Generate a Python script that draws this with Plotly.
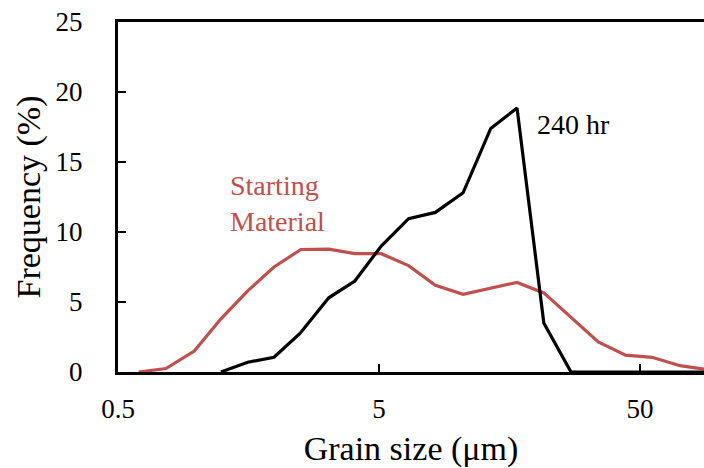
import plotly.graph_objects as go
import math

# Grain size (µm) bins and frequencies (%)
size_start = [0.60, 0.763, 0.980, 1.24, 1.57, 1.98, 2.51, 3.21, 4.04, 5.1, 6.49, 8.22,
              10.5, 13.4, 16.9, 21.4, 27.2, 34.6, 44.0, 55.6, 71.2, 89.0]
freq_start = [0.0, 0.25, 1.5, 3.8, 5.8, 7.5, 8.75, 8.77, 8.45, 8.45, 7.6, 6.2,
              5.55, 6.0, 6.4, 5.65, 3.9, 2.15, 1.2, 1.05, 0.45, 0.2]

size_240 = [1.24, 1.57, 1.98, 2.49, 3.21, 4.04, 5.1, 6.49, 8.22, 10.5, 13.4, 16.9,
            21.4, 27.2, 34.6, 44.0, 55.6, 71.2, 89.0]
freq_240 = [0.0, 0.7, 1.05, 2.75, 5.3, 6.5, 9.0, 10.95, 11.4, 12.8, 17.4, 18.85,
            3.5, 0.0, 0.0, 0.0, 0.0, 0.0, 0.0]

x_ticks = [0.5, 5, 50]
x_tick_text = ["0.5", "5", "50"]
y_ticks = [0, 5, 10, 15, 20, 25]

RED = "#C0504D"
FONT = "Liberation Serif"

fig = go.Figure()
fig.add_trace(go.Scatter(x=size_start, y=freq_start, mode="lines",
                         line=dict(color=RED, width=3.2), name="Starting Material"))
fig.add_trace(go.Scatter(x=size_240, y=freq_240, mode="lines",
                         line=dict(color="black", width=3.2), name="240 hr"))

fig.add_annotation(xref="paper", yref="paper", x=(535 - 118) / 586, y=(372 - 125) / 350,
                   text="240 hr", showarrow=False, xanchor="left", yanchor="middle",
                   font=dict(family=FONT, size=28, color="black"))
fig.add_annotation(xref="paper", yref="paper", x=(228 - 118) / 586, y=(372 - 203) / 350,
                   text="Starting<br>Material", showarrow=False, xanchor="left", yanchor="middle",
                   align="left", font=dict(family=FONT, size=28, color=RED))

fig.update_layout(
    width=704, height=468,
    margin=dict(l=118, r=0, t=22, b=96),
    paper_bgcolor="white", plot_bgcolor="white",
    showlegend=False,
    font=dict(family=FONT, color="black"),
)
fig.update_xaxes(
    type="log", range=[math.log10(0.5), math.log10(0.5) + 586 / 261],
    tickvals=x_ticks, ticktext=x_tick_text,
    ticks="inside", ticklen=8, tickwidth=2, tickcolor="black",
    showline=True, linecolor="black", linewidth=3, mirror=True,
    showgrid=False, zeroline=False,
    tickfont=dict(family=FONT, size=27, color="black"),
    ticklabelstandoff=11,
    title=dict(text="Grain size (μm)", font=dict(family=FONT, size=34, color="black"), standoff=17),
)
fig.update_yaxes(
    range=[0, 25], tickvals=y_ticks,
    ticks="inside", ticklen=8, tickwidth=2, tickcolor="black",
    showline=True, linecolor="black", linewidth=3,
    showgrid=False, zeroline=False,
    tickfont=dict(family=FONT, size=27, color="black"),
    ticklabelstandoff=27,
    title=dict(text="Frequency (%)", font=dict(family=FONT, size=34, color="black"), standoff=5),
)

fig.write_html("out.html")
